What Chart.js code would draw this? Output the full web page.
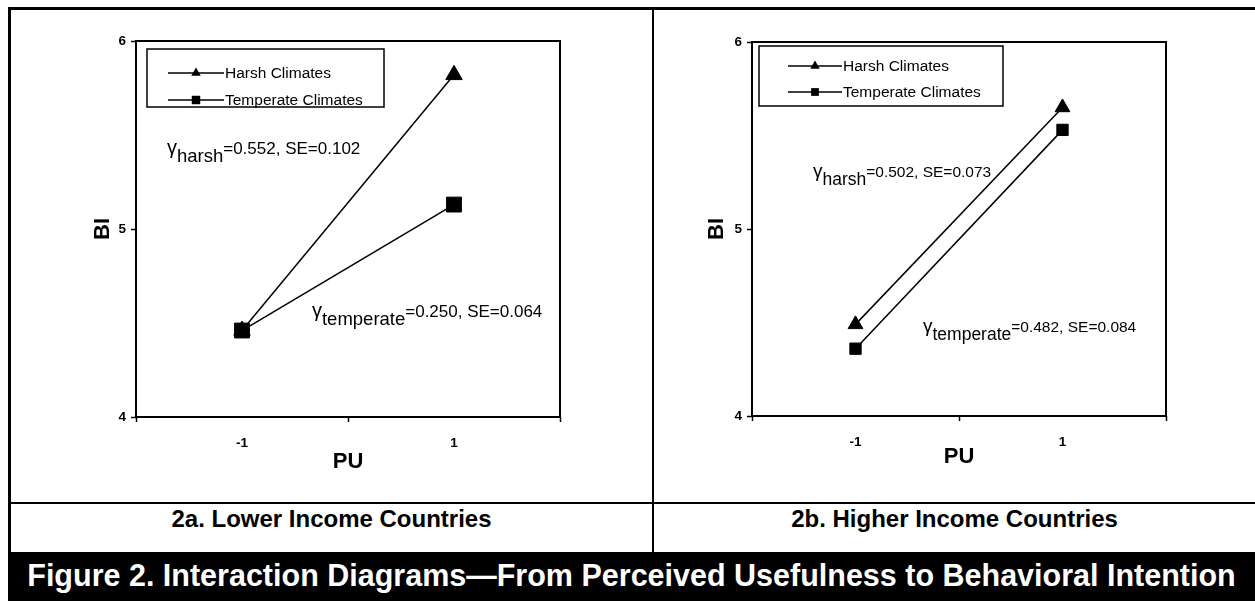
<!DOCTYPE html>
<html>
<head>
<meta charset="utf-8">
<script src="https://cdn.jsdelivr.net/npm/chart.js"></script>
<style>
  body { margin: 0; background: #fff; width: 1255px; height: 601px; overflow: hidden; position: relative;
         font-family: "Liberation Sans", Arial, sans-serif; }
  .rule { position: absolute; background: #000; }
  .box { position: absolute; }
  .caption { position: absolute; top: 504px; height: 30px; line-height: 30px; font-weight: bold; font-size: 24px; text-align: center; }
  .band { position: absolute; left: 8px; top: 552px; width: 1247px; height: 49px; background: #000; color: #fff;
          font-weight: bold; font-size: 30.5px; line-height: 47px; text-align: center; white-space: nowrap; }
</style>
</head>
<body>
<div class="rule" style="left:8px;top:7px;width:1247px;height:3px"></div>
<div class="rule" style="left:8px;top:7px;width:3px;height:545px"></div>
<div class="rule" style="left:652px;top:7px;width:2px;height:545px"></div>
<div class="rule" style="left:8px;top:502px;width:1247px;height:2px"></div>

<div class="box" style="left:11px;top:10px;width:641px;height:492px"><canvas id="lower"></canvas></div>
<div class="box" style="left:654px;top:10px;width:601px;height:492px"><canvas id="higher"></canvas></div>

<div class="caption" style="left:11px;width:641px">2a. Lower Income Countries</div>
<div class="caption" style="left:654px;width:601px">2b. Higher Income Countries</div>
<div class="band">Figure 2. Interaction Diagrams—From Perceived Usefulness to Behavioral Intention</div>

<script>
const FONT = '"Liberation Sans", Arial, sans-serif';

// PU levels (x) and BI values (y)
const puLevels = [-1, 1];
const seriesNames = ["Harsh Climates", "Temperate Climates"];

const lowerHarsh = [4.46, 5.82];
const lowerTemperate = [4.46, 5.13];
const higherHarsh = [4.49, 5.65];
const higherTemperate = [4.36, 5.53];

const lowerNotes = [
  { sub: "harsh", text: "=0.552, SE=0.102" },
  { sub: "temperate", text: "=0.250, SE=0.064" }
];
const higherNotes = [
  { sub: "harsh", text: "=0.502, SE=0.073" },
  { sub: "temperate", text: "=0.482, SE=0.084" }
];

function marker(ctx, style, x, y, r) {
  ctx.beginPath();
  if (style === "triangle") {
    let rad = 0;
    ctx.moveTo(x + Math.sin(rad) * r, y - Math.cos(rad) * r);
    rad += 2 * Math.PI / 3;
    ctx.lineTo(x + Math.sin(rad) * r, y - Math.cos(rad) * r);
    rad += 2 * Math.PI / 3;
    ctx.lineTo(x + Math.sin(rad) * r, y - Math.cos(rad) * r);
    ctx.closePath();
  } else {
    const s = Math.SQRT1_2 * r;
    ctx.rect(x - s, y - s, 2 * s, 2 * s);
  }
  ctx.fill();
}

const framePlugin = {
  id: "frame",
  beforeDatasetsDraw(chart) {
    const { ctx, chartArea: a } = chart;
    ctx.save();
    ctx.strokeStyle = "#000";
    ctx.lineWidth = 2;
    ctx.strokeRect(a.left, a.top, a.right - a.left, a.bottom - a.top);
    ctx.restore();
  }
};

const notesPlugin = {
  id: "notes",
  afterDatasetsDraw(chart, args, opts) {
    const { ctx, scales } = chart;
    ctx.save();
    ctx.fillStyle = "#000";
    ctx.textBaseline = "alphabetic";
    opts.items.forEach((n, i) => {
      const pos = opts.at[i];
      let x = scales.x.getPixelForValue(pos[0]);
      const y = scales.y.getPixelForValue(pos[1]);
      ctx.font = opts.gamma + "px " + FONT;
      ctx.fillText("γ", x, y);
      x += ctx.measureText("γ").width;
      ctx.font = opts.subSize + "px " + FONT;
      ctx.fillText(n.sub, x, y + opts.drop);
      x += ctx.measureText(n.sub).width;
      ctx.font = opts.size + "px " + FONT;
      ctx.fillText(n.text, x, y);
    });
    ctx.restore();
  }
};

const legendPlugin = {
  id: "boxLegend",
  afterDraw(chart, args, opts) {
    const { ctx, chartArea: a } = chart;
    const bx = a.left + opts.x, by = a.top + opts.y;
    ctx.save();
    ctx.strokeStyle = "#000";
    ctx.lineWidth = 1.5;
    ctx.strokeRect(bx, by, opts.w, opts.h);
    ctx.font = opts.size + "px " + FONT;
    ctx.textBaseline = "middle";
    ctx.fillStyle = "#000";
    chart.data.datasets.forEach((ds, i) => {
      const ry = by + opts.rows[i];
      ctx.beginPath();
      ctx.moveTo(bx + opts.line[0], ry);
      ctx.lineTo(bx + opts.line[1], ry);
      ctx.lineWidth = 1.5;
      ctx.stroke();
      marker(ctx, ds.pointStyle, bx + (opts.line[0] + opts.line[1]) / 2, ry, opts.marks[i]);
      ctx.fillText(ds.label, bx + opts.line[1] + 1, ry + 1);
    });
    ctx.restore();
  }
};

function makeChart(id, harsh, temperate, cfg) {
  const toPts = vals => puLevels.map((x, i) => ({ x: x, y: vals[i] }));
  return new Chart(document.getElementById(id), {
    type: "line",
    data: {
      datasets: [
        {
          label: seriesNames[0],
          data: toPts(harsh),
          borderColor: "#000",
          borderWidth: 1.5,
          pointStyle: "triangle",
          pointRadius: cfg.tri,
          pointBackgroundColor: "#000",
          pointBorderColor: "#000",
          pointBorderWidth: 1
        },
        {
          label: seriesNames[1],
          data: toPts(temperate),
          borderColor: "#000",
          borderWidth: 1.5,
          pointStyle: "rect",
          pointRadius: cfg.sq,
          pointBackgroundColor: "#000",
          pointBorderColor: "#000",
          pointBorderWidth: 1
        }
      ]
    },
    options: {
      responsive: true,
      maintainAspectRatio: false,
      animation: false,
      layout: { padding: cfg.padding },
      plugins: {
        legend: { display: false },
        tooltip: { enabled: false },
        notes: cfg.notes,
        boxLegend: cfg.legend
      },
      scales: {
        x: {
          type: "linear",
          min: -2,
          max: 2,
          afterFit: s => { s.height = cfg.xHeight; },
          border: { display: false },
          grid: {
            drawOnChartArea: false,
            tickLength: 5,
            tickWidth: 1.5,
            tickColor: c => (c.tick && Math.abs(c.tick.value) === 1) ? "rgba(0,0,0,0)" : "#000"
          },
          ticks: {
            stepSize: 1,
            padding: 13,
            color: "#000",
            font: { family: FONT, size: 13.5, weight: "bold" },
            callback: v => (v === -1 || v === 1) ? String(v) : ""
          },
          title: {
            display: true,
            text: "PU",
            color: "#000",
            padding: 0,
            font: { family: FONT, size: 22, weight: "bold" }
          }
        },
        y: {
          min: 4,
          max: 6,
          afterFit: s => { s.width = cfg.yWidth; },
          border: { display: false },
          grid: { drawOnChartArea: false, tickLength: 5, tickWidth: 1.5, tickColor: "#000" },
          ticks: {
            stepSize: 1,
            padding: 5,
            color: "#000",
            font: { family: FONT, size: 13.5, weight: "bold" }
          },
          title: {
            display: true,
            text: "BI",
            color: "#000",
            padding: 0,
            font: { family: FONT, size: 22, weight: "bold" }
          }
        }
      }
    },
    plugins: [framePlugin, notesPlugin, legendPlugin]
  });
}

makeChart("lower", lowerHarsh, lowerTemperate, {
  tri: 9.5, sq: 10.5,
  padding: { left: 79, top: 31, right: 92, bottom: 27 },
  yWidth: 46, xHeight: 58,
  notes: { items: lowerNotes, at: [[-1.708, 5.399], [-0.34, 4.532]], gamma: 20, subSize: 18.5, size: 17, drop: 8 },
  legend: { x: 11, y: 8, w: 237, h: 58, rows: [24, 51], line: [21, 77], marks: [5.5, 6], size: 15.5 }
});

makeChart("higher", higherHarsh, higherTemperate, {
  tri: 8.5, sq: 8,
  padding: { left: 50, top: 32, right: 89, bottom: 32 },
  yWidth: 48, xHeight: 54,
  notes: { items: higherNotes, at: [[-1.411, 5.278], [-0.348, 4.449]], gamma: 19, subSize: 17.5, size: 15.5, drop: 8 },
  legend: { x: 7, y: 4, w: 244, h: 60, rows: [20, 46], line: [29, 83], marks: [5.5, 5.5], size: 15.5 }
});
</script>
</body>
</html>
